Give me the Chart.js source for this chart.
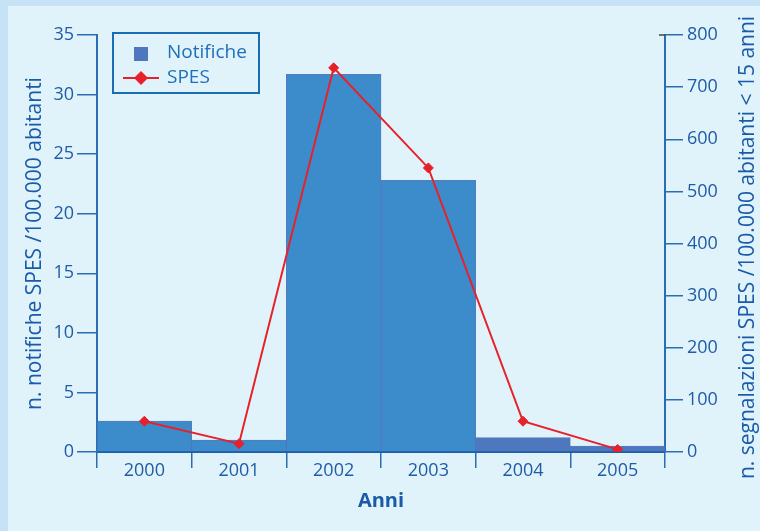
<!DOCTYPE html>
<html>
<head>
<meta charset="utf-8">
<script src="https://cdn.jsdelivr.net/npm/chart.js@4/dist/chart.umd.min.js"></script>
<style>
  html, body { margin: 0; padding: 0; background: #c6e2f5; }
  #wrap { position: relative; width: 760px; height: 531px; overflow: hidden; }
  #panel { position: absolute; left: 8px; top: 6px; width: 752px; height: 525px; background: #e0f3fb; }
  #c { position: absolute; left: 0; top: 0; }
</style>
</head>
<body>
<div id="wrap">
  <div id="panel"></div>
  <canvas id="c" width="760" height="531"></canvas>
</div>
<script>
const categories = ['2000', '2001', '2002', '2003', '2004', '2005'];
const notifiche = [2.6, 1.0, 31.7, 22.8, 1.2, 0.5];
const spes = [59, 16, 737, 545, 59, 5];
const barColors = ['#3c8ccb', '#3c8ccb', '#3c8ccb', '#3c8ccb', '#4f77bd', '#4f77bd'];
const leftTitle = 'n. notifiche SPES /100.000 abitanti';
const rightTitle = 'n. segnalazioni SPES /100.000 abitanti < 15 anni';
const xTitle = 'Anni';
const legendLabels = ['Notifiche', 'SPES'];

const TXT = '#1f5ca6';
const TITLE = '#1a5aa8';
const AX = '#2b6cb4';
const FONT = "'Open Sans', sans-serif";

const legendPlugin = {
  id: 'boxLegend',
  afterDraw(chart) {
    const ctx = chart.ctx;
    const a = chart.chartArea;
    // right axis title, reading bottom-to-top
    ctx.save();
    ctx.translate(748, (a.top + a.bottom) / 2 + 4);
    ctx.rotate(-Math.PI / 2);
    ctx.fillStyle = TITLE;
    ctx.font = "21px " + FONT;
    ctx.textAlign = 'center';
    ctx.textBaseline = 'middle';
    ctx.fillText(rightTitle, 0, 0);
    ctx.restore();

    const x0 = a.left + 16, y0 = a.top - 2, w = 146, h = 60;
    ctx.save();
    ctx.lineWidth = 2;
    ctx.strokeStyle = '#1b6db3';
    ctx.fillStyle = '#e0f3fb';
    ctx.fillRect(x0, y0, w, h);
    ctx.strokeRect(x0, y0, w, h);
    ctx.fillStyle = '#4f77bd';
    ctx.fillRect(x0 + 21, y0 + 14, 14, 14);
    ctx.strokeStyle = '#e8202a';
    ctx.lineWidth = 2;
    ctx.beginPath();
    ctx.moveTo(x0 + 10, y0 + 45);
    ctx.lineTo(x0 + 46, y0 + 45);
    ctx.stroke();
    ctx.fillStyle = '#e8202a';
    ctx.beginPath();
    const cx = x0 + 28, cy = y0 + 45, r = 7;
    ctx.moveTo(cx - r, cy); ctx.lineTo(cx, cy - r); ctx.lineTo(cx + r, cy); ctx.lineTo(cx, cy + r);
    ctx.closePath(); ctx.fill();
    ctx.fillStyle = '#1f6fb8';
    ctx.font = "19px " + FONT;
    ctx.textBaseline = 'middle';
    ctx.textAlign = 'left';
    ctx.fillText(legendLabels[0], x0 + 54, y0 + 20);
    ctx.fillText(legendLabels[1], x0 + 54, y0 + 45);
    ctx.restore();

    // small dark cap at the top of the right axis
    ctx.save();
    ctx.strokeStyle = '#444';
    ctx.lineWidth = 1.5;
    ctx.beginPath();
    ctx.moveTo(a.right - 6, a.top);
    ctx.lineTo(a.right, a.top);
    ctx.stroke();
    ctx.restore();
  }
};

new Chart(document.getElementById('c'), {
  data: {
    labels: categories,
    datasets: [
      {
        type: 'line',
        label: legendLabels[1],
        data: spes,
        yAxisID: 'y2',
        borderColor: '#e8202a',
        backgroundColor: '#e8202a',
        borderWidth: 2,
        pointStyle: 'rectRot',
        pointRadius: 5,
        pointBorderWidth: 1,
        tension: 0,
        order: 0
      },
      {
        type: 'bar',
        label: legendLabels[0],
        data: notifiche,
        yAxisID: 'y',
        backgroundColor: barColors,
        borderColor: 'rgba(70,110,185,0.9)',
        borderWidth: 1,
        categoryPercentage: 1.0,
        barPercentage: 1.0,
        order: 1
      }
    ]
  },
  options: {
    responsive: false,
    animation: false,
    layout: { padding: { top: 35, left: 0, right: 0, bottom: 0 } },
    plugins: {
      legend: { display: false },
      tooltip: { enabled: false }
    },
    scales: {
      x: {
        type: 'category',
        offset: true,
        grid: {
          offset: true,
          drawOnChartArea: false,
          drawTicks: true,
          tickLength: 16,
          color: AX,
          lineWidth: 1.5
        },
        border: { display: true, color: '#1f5fae', width: 2 },
        ticks: { color: TXT, font: { family: FONT, size: 18 }, padding: -8, maxRotation: 0 },
        title: {
          display: true, text: xTitle, color: TITLE,
          font: { family: FONT, size: 20, weight: 'bold' },
          padding: { top: 0, bottom: 18 }
        },
        afterFit(s) { s.height = 79; }
      },
      y: {
        position: 'left',
        min: 0, max: 35,
        ticks: { stepSize: 5, color: TXT, font: { family: FONT, size: 18 }, padding: 3 },
        grid: { drawOnChartArea: false, drawTicks: true, tickLength: 20, color: AX, lineWidth: 1.5 },
        border: { display: true, color: AX, width: 2 },
        title: {
          display: true, text: leftTitle, color: TITLE,
          font: { family: FONT, size: 21 },
          padding: { top: 22, bottom: 0 }
        },
        afterFit(s) { s.width = 97; }
      },
      y2: {
        position: 'right',
        min: 0, max: 800,
        ticks: { stepSize: 100, color: TXT, font: { family: FONT, size: 18 }, padding: 4 },
        grid: { drawOnChartArea: false, drawTicks: true, tickLength: 18, color: AX, lineWidth: 1.5 },
        border: { display: true, color: AX, width: 2 },
        title: { display: false },
        afterFit(s) { s.width = 95; }
      }
    }
  },
  plugins: [legendPlugin]
});
</script>
</body>
</html>
